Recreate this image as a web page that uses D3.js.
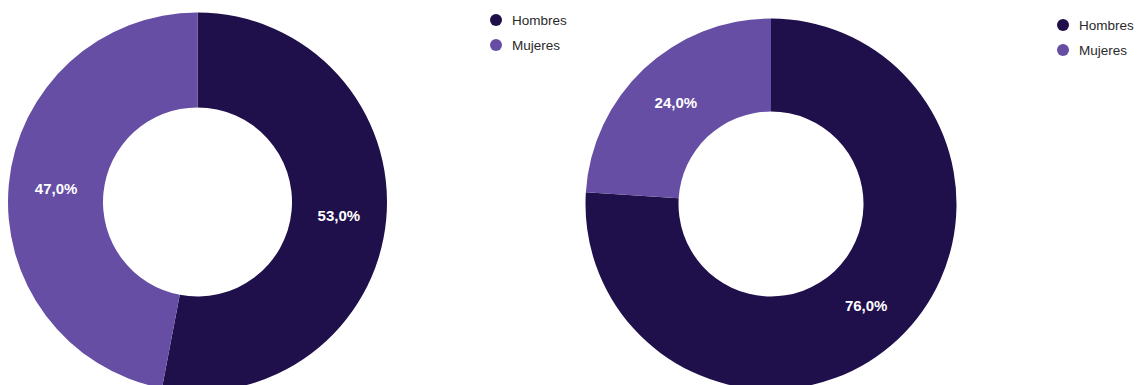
<!DOCTYPE html>
<html>
<head>
<meta charset="utf-8">
<script src="https://cdn.jsdelivr.net/npm/d3@7"></script>
<style>
  html, body { margin: 0; padding: 0; background: #fff; }
  svg { display: block; }
</style>
</head>
<body>
<svg id="chart" width="1139" height="385"></svg>
<script>
// Gender split, two donut charts
const categories = ["Hombres", "Mujeres"];
const valuesLeft = [53.0, 47.0];
const valuesRight = [76.0, 24.0];
const colors = ["#1f0f4a", "#654ea4"];

const svg = d3.select("#chart");
const color = d3.scaleOrdinal().domain(categories).range(colors);
const fmt = v => d3.format(".1f")(v).replace(".", ",") + "%";

function donut(values, cx, cy, outer, inner, legendX, legendY) {
  const data = categories.map((c, i) => ({ cat: c, value: values[i] }));
  const pie = d3.pie().value(d => d.value).sort(null);
  const arc = d3.arc().innerRadius(inner).outerRadius(outer);
  const g = svg.append("g").attr("transform", `translate(${cx},${cy})`);
  const arcs = pie(data);

  g.selectAll("path").data(arcs).join("path")
    .attr("d", arc)
    .attr("fill", d => color(d.data.cat));

  g.selectAll("text").data(arcs).join("text")
    .attr("transform", d => `translate(${arc.centroid(d)})`)
    .attr("text-anchor", "middle")
    .attr("dy", "0.35em")
    .attr("fill", "#fff")
    .attr("font-family", "Liberation Sans, Arial, sans-serif")
    .attr("font-weight", "bold")
    .attr("font-size", 15)
    .text(d => fmt(d.data.value));

  const lg = svg.append("g").attr("transform", `translate(${legendX},${legendY})`);
  const items = lg.selectAll("g").data(categories).join("g")
    .attr("transform", (d, i) => `translate(0,${i * 25})`);
  items.append("circle").attr("r", 6).attr("fill", d => color(d));
  items.append("text")
    .attr("x", 16).attr("dy", "0.35em")
    .attr("fill", "#2a2a2a")
    .attr("font-family", "Liberation Sans, Arial, sans-serif")
    .attr("font-size", 13.5)
    .text(d => d);
}

donut(valuesLeft, 197.5, 202, 189.5, 94.5, 496, 20);
donut(valuesRight, 771, 204, 185.5, 92.5, 1063, 25);
</script>
</body>
</html>
